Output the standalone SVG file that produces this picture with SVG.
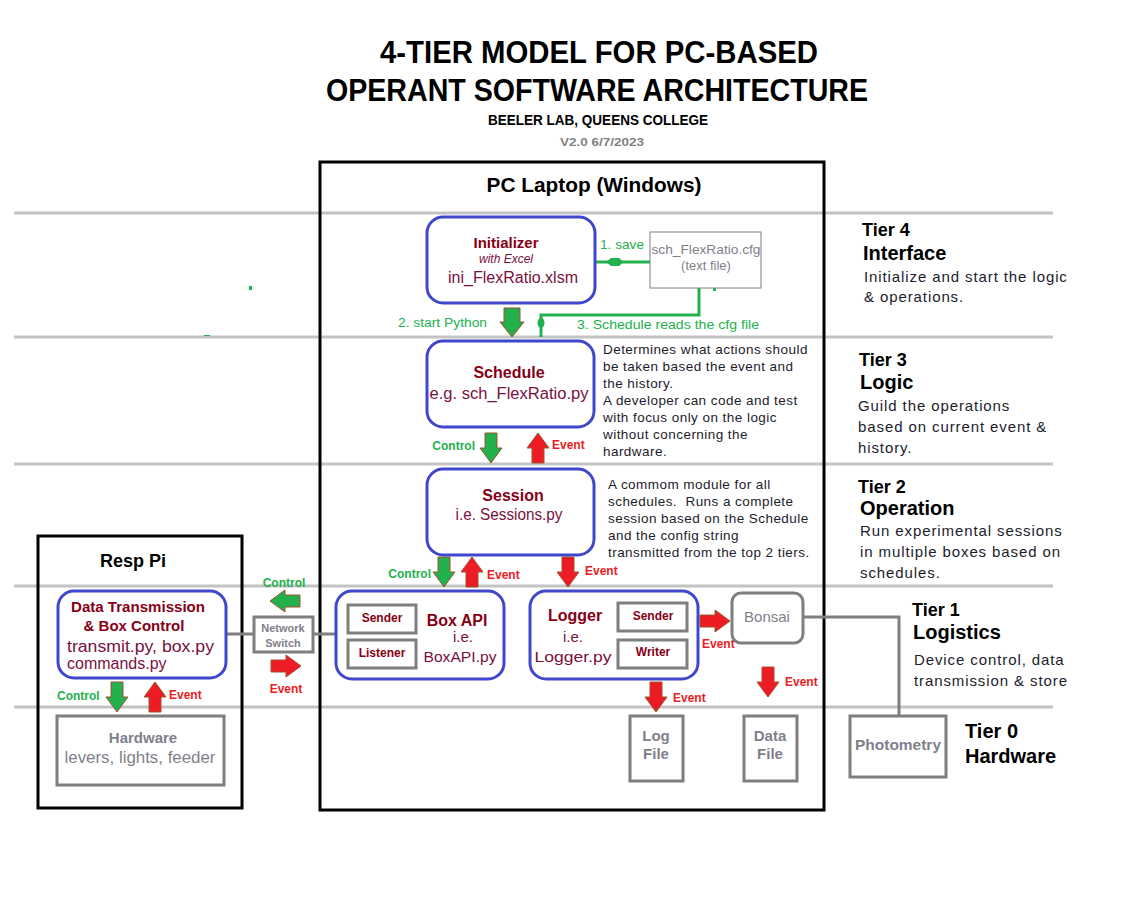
<svg xmlns="http://www.w3.org/2000/svg" xmlns:xlink="http://www.w3.org/1999/xlink" width="1132" height="900" viewBox="0 0 1132 900">
<style>
text{font-family:"Liberation Sans",Arial,sans-serif;}
.b{font-weight:bold;}
.tl{fill:#000;font-weight:bold;}
.lbl{fill:#880015;font-weight:bold;}
.code{fill:#7a1040;}
.desc{fill:#1c1c2c;font-size:13.5px;letter-spacing:0.45px;}
.td{fill:#1c1c2c;font-size:15px;letter-spacing:0.9px;}
.gt{fill:#7f7f8c;}
.grn{fill:#22b14c;}
.red{fill:#ed1c24;}
.tier{stroke:#c3c3c3;stroke-width:3;fill:none;}
.blue{fill:#fff;stroke:#3f48cc;stroke-width:3;}
.gbox{fill:#fff;stroke:#7f7f7f;stroke-width:3;}
.ga{fill:#22b14c;stroke:#a0522d;stroke-width:1;}
.ra{fill:#ed1c24;stroke:#a0522d;stroke-width:1;}
.gl{stroke:#22b14c;stroke-width:3;fill:none;}
.gray{stroke:#7f7f7f;stroke-width:3;fill:none;}
</style>
<defs>
<path id="adn" d="M-6,0 H6 V15 H11 L0,30 L-11,15 H-6 Z"/>
<path id="aup" d="M-6,30 H6 V15 H11 L0,0 L-11,15 H-6 Z"/>
<path id="art" d="M0,-6 V6 H15 V11 L30,0 L15,-11 V-6 Z"/>
<path id="alt" d="M30,-6 V6 H15 V11 L0,0 L15,-11 V-6 Z"/>
</defs>
<rect x="0" y="0" width="1132" height="900" fill="#fff"/>

<g id="title">
<text x="599" y="63" text-anchor="middle" class="tl" font-size="32" textLength="438" lengthAdjust="spacingAndGlyphs">4-TIER MODEL FOR PC-BASED</text>
<text x="597" y="101" text-anchor="middle" class="tl" font-size="32" textLength="542" lengthAdjust="spacingAndGlyphs">OPERANT SOFTWARE ARCHITECTURE</text>
<text x="598" y="125" text-anchor="middle" class="tl" font-size="15" textLength="220" lengthAdjust="spacingAndGlyphs">BEELER LAB, QUEENS COLLEGE</text>
<text x="602" y="146" text-anchor="middle" class="b" fill="#7f7f7f" font-size="11" textLength="84" lengthAdjust="spacingAndGlyphs">V2.0 6/7/2023</text>
</g>

<g id="tier-lines">
<line x1="14" y1="213" x2="1053" y2="213" class="tier"/>
<line x1="14" y1="337" x2="1053" y2="337" class="tier"/>
<line x1="14" y1="464" x2="1053" y2="464" class="tier"/>
<line x1="14" y1="586" x2="1053" y2="586" class="tier"/>
<line x1="14" y1="707" x2="1053" y2="707" class="tier"/>
</g>

<g id="pc-laptop">
<rect x="320" y="162" width="504" height="648" fill="none" stroke="#000" stroke-width="3"/>
<text x="594" y="192" text-anchor="middle" class="tl" font-size="20" textLength="215" lengthAdjust="spacingAndGlyphs">PC Laptop (Windows)</text>
</g>

<g id="resp-pi">
<rect x="38" y="536" width="204" height="272" fill="none" stroke="#000" stroke-width="3"/>
<text x="133" y="567" text-anchor="middle" class="tl" font-size="18">Resp Pi</text>
</g>

<rect x="249" y="286" width="3" height="4" fill="#22b14c"/>
<rect x="204" y="335" width="6" height="1" fill="#22b14c"/>

<g id="connectors">
<line x1="596" y1="262" x2="650" y2="262" class="gl"/>
<path d="M606,262 L611,258 H619 L624,262 L619,266 H611 Z" fill="#22b14c"/>
<polyline points="699,288 699,315 541,315 541,337" class="gl"/>
<ellipse cx="541" cy="323" rx="3.5" ry="5" fill="#22b14c"/>
<rect x="713" y="288" width="3" height="3" fill="#22b14c"/>
<path d="M504,308 H520 V322 H524 L512,337 L500,322 H504 Z" class="ga"/>
<use xlink:href="#adn" x="491" y="433" class="ga"/>
<use xlink:href="#aup" x="538" y="433" class="ra"/>
<use xlink:href="#adn" x="444" y="557" class="ga"/>
<use xlink:href="#aup" x="472" y="557" class="ra"/>
<use xlink:href="#adn" x="568" y="557" class="ra"/>
<use xlink:href="#art" x="700" y="621" class="ra"/>
<use xlink:href="#adn" x="768" y="667" class="ra"/>
<use xlink:href="#adn" x="656" y="682" class="ra"/>
<use xlink:href="#adn" x="117" y="682" class="ga"/>
<use xlink:href="#aup" x="155" y="682" class="ra"/>
<use xlink:href="#alt" x="270" y="601" class="ga"/>
<use xlink:href="#art" x="271" y="666" class="ra"/>
<line x1="226" y1="634" x2="336" y2="634" class="gray"/>
<polyline points="803,617 899,617 899,716" class="gray"/>
<text x="600" y="249" class="grn" font-size="12" textLength="44" lengthAdjust="spacingAndGlyphs">1. save</text>
<text x="398" y="327" class="grn" font-size="12" textLength="89" lengthAdjust="spacingAndGlyphs">2. start Python</text>
<text x="577" y="329" class="grn" font-size="12" textLength="182" lengthAdjust="spacingAndGlyphs">3. Schedule reads the cfg file</text>
<text x="475" y="450" text-anchor="end" class="grn b" font-size="12">Control</text>
<text x="552" y="449" class="red b" font-size="12">Event</text>
<text x="431" y="578" text-anchor="end" class="grn b" font-size="12">Control</text>
<text x="487" y="579" class="red b" font-size="12">Event</text>
<text x="585" y="575" class="red b" font-size="12">Event</text>
<text x="702" y="648" class="red b" font-size="12">Event</text>
<text x="785" y="686" class="red b" font-size="12">Event</text>
<text x="673" y="702" class="red b" font-size="12">Event</text>
<text x="284" y="587" text-anchor="middle" class="grn b" font-size="12">Control</text>
<text x="286" y="693" text-anchor="middle" class="red b" font-size="12">Event</text>
<text x="57" y="700" class="grn b" font-size="12">Control</text>
<text x="169" y="699" class="red b" font-size="12">Event</text>
</g>

<g id="initializer">
<rect x="427" y="217" width="168" height="86" rx="16" class="blue"/>
<text x="506" y="248" text-anchor="middle" class="lbl" font-size="15">Initializer</text>
<text x="506" y="263" text-anchor="middle" class="code" font-size="12" font-style="italic">with Excel</text>
<text x="513" y="283" text-anchor="middle" class="code" font-size="16" textLength="130" lengthAdjust="spacingAndGlyphs">ini_FlexRatio.xlsm</text>
</g>

<g id="cfg-file">
<rect x="650" y="232" width="111" height="56" fill="#fff" stroke="#7f7f7f" stroke-width="1"/>
<text x="706" y="254" text-anchor="middle" class="gt" font-size="13" textLength="109" lengthAdjust="spacingAndGlyphs">sch_FlexRatio.cfg</text>
<text x="706" y="270" text-anchor="middle" class="gt" font-size="13">(text file)</text>
</g>

<g id="schedule">
<rect x="427" y="341" width="167" height="86" rx="16" class="blue"/>
<text x="509" y="378" text-anchor="middle" class="lbl" font-size="16">Schedule</text>
<text x="509" y="399" text-anchor="middle" class="code" font-size="16" textLength="159" lengthAdjust="spacingAndGlyphs">e.g. sch_FlexRatio.py</text>
<text class="desc" x="603" y="354">Determines what actions should</text>
<text class="desc" x="603" y="371">be taken based the event and</text>
<text class="desc" x="603" y="388">the history.</text>
<text class="desc" x="603" y="405">A developer can code and test</text>
<text class="desc" x="603" y="422">with focus only on the logic</text>
<text class="desc" x="603" y="439">without concerning the</text>
<text class="desc" x="603" y="456">hardware.</text>
</g>

<g id="session">
<rect x="427" y="469" width="167" height="86" rx="16" class="blue"/>
<text x="513" y="501" text-anchor="middle" class="lbl" font-size="16">Session</text>
<text x="509" y="520" text-anchor="middle" class="code" font-size="16" textLength="107" lengthAdjust="spacingAndGlyphs">i.e. Sessions.py</text>
<text class="desc" x="608" y="489">A commom module for all</text>
<text class="desc" x="608" y="506">schedules.&#160; Runs a complete</text>
<text class="desc" x="608" y="523">session based on the Schedule</text>
<text class="desc" x="608" y="540">and the config string</text>
<text class="desc" x="608" y="557">transmitted from the top 2 tiers.</text>
</g>

<g id="box-api">
<rect x="336" y="591" width="168" height="88" rx="16" class="blue"/>
<rect x="348" y="605" width="68" height="28" class="gbox"/>
<rect x="348" y="640" width="68" height="28" class="gbox"/>
<text x="382" y="622" text-anchor="middle" class="lbl" font-size="12">Sender</text>
<text x="382" y="657" text-anchor="middle" class="lbl" font-size="12">Listener</text>
<text x="457" y="626" text-anchor="middle" class="lbl" font-size="16">Box API</text>
<text x="463" y="642" text-anchor="middle" class="code" font-size="15">i.e.</text>
<text x="460" y="662" text-anchor="middle" class="code" font-size="15" textLength="73" lengthAdjust="spacingAndGlyphs">BoxAPI.py</text>
</g>

<g id="logger">
<rect x="530" y="591" width="168" height="88" rx="16" class="blue"/>
<rect x="618" y="603" width="69" height="28" class="gbox"/>
<rect x="618" y="640" width="69" height="28" class="gbox"/>
<text x="575" y="621" text-anchor="middle" class="lbl" font-size="16">Logger</text>
<text x="573" y="642" text-anchor="middle" class="code" font-size="15">i.e.</text>
<text x="573" y="662" text-anchor="middle" class="code" font-size="15" textLength="77" lengthAdjust="spacingAndGlyphs">Logger.py</text>
<text x="653" y="620" text-anchor="middle" class="lbl" font-size="12">Sender</text>
<text x="653" y="656" text-anchor="middle" class="lbl" font-size="12">Writer</text>
</g>

<g id="bonsai">
<rect x="732" y="593" width="71" height="50" rx="9" class="gbox"/>
<text x="767" y="622" text-anchor="middle" class="gt" font-size="15">Bonsai</text>
</g>

<g id="log-file">
<rect x="630" y="716" width="53" height="65" class="gbox"/>
<text x="656" y="741" text-anchor="middle" class="gt b" font-size="15">Log</text>
<text x="656" y="759" text-anchor="middle" class="gt b" font-size="15">File</text>
</g>

<g id="data-file">
<rect x="744" y="716" width="53" height="65" class="gbox"/>
<text x="770" y="741" text-anchor="middle" class="gt b" font-size="15">Data</text>
<text x="770" y="759" text-anchor="middle" class="gt b" font-size="15">File</text>
</g>

<g id="photometry">
<rect x="850" y="716" width="96" height="61" class="gbox"/>
<text x="898" y="750" text-anchor="middle" class="gt b" font-size="14" textLength="86" lengthAdjust="spacingAndGlyphs">Photometry</text>
</g>

<g id="data-transmission">
<rect x="58" y="591" width="168" height="87" rx="16" class="blue"/>
<text x="138" y="612" text-anchor="middle" class="lbl" font-size="15" textLength="134" lengthAdjust="spacingAndGlyphs">Data Transmission</text>
<text x="134" y="631" text-anchor="middle" class="lbl" font-size="15">&amp; Box Control</text>
<text x="67" y="652" class="code" font-size="16" textLength="147" lengthAdjust="spacingAndGlyphs">transmit.py, box.py</text>
<text x="67" y="669" class="code" font-size="16">commands.py</text>
</g>

<g id="network-switch">
<rect x="254" y="617" width="59" height="35" class="gbox"/>
<text x="283" y="632" text-anchor="middle" class="gt b" font-size="11">Network</text>
<text x="283" y="647" text-anchor="middle" class="gt b" font-size="11">Switch</text>
</g>

<g id="hardware">
<rect x="57" y="716" width="167" height="69" class="gbox"/>
<text x="143" y="743" text-anchor="middle" class="gt b" font-size="15">Hardware</text>
<text x="140" y="763" text-anchor="middle" class="gt" font-size="16" textLength="151" lengthAdjust="spacingAndGlyphs">levers, lights, feeder</text>
</g>

<g id="tier-labels">
<text x="862" y="236" class="tl" font-size="18">Tier 4</text>
<text x="863" y="260" class="tl" font-size="20">Interface</text>
<text x="864" y="282" class="td">Initialize and start the logic</text>
<text x="864" y="302" class="td">&amp; operations.</text>
<text x="859" y="366" class="tl" font-size="18">Tier 3</text>
<text x="860" y="389" class="tl" font-size="20">Logic</text>
<text x="858" y="411" class="td">Guild the operations</text>
<text x="858" y="432" class="td">based on current event &amp;</text>
<text x="858" y="453" class="td">history.</text>
<text x="858" y="493" class="tl" font-size="18">Tier 2</text>
<text x="860" y="515" class="tl" font-size="20">Operation</text>
<text x="860" y="536" class="td">Run experimental sessions</text>
<text x="860" y="557" class="td">in multiple boxes based on</text>
<text x="860" y="578" class="td">schedules.</text>
<text x="912" y="616" class="tl" font-size="18">Tier 1</text>
<text x="913" y="639" class="tl" font-size="20">Logistics</text>
<text x="914" y="665" class="td">Device control, data</text>
<text x="914" y="686" class="td">transmission &amp; store</text>
<text x="965" y="738" class="tl" font-size="20">Tier 0</text>
<text x="965" y="763" class="tl" font-size="20">Hardware</text>
</g>
</svg>
